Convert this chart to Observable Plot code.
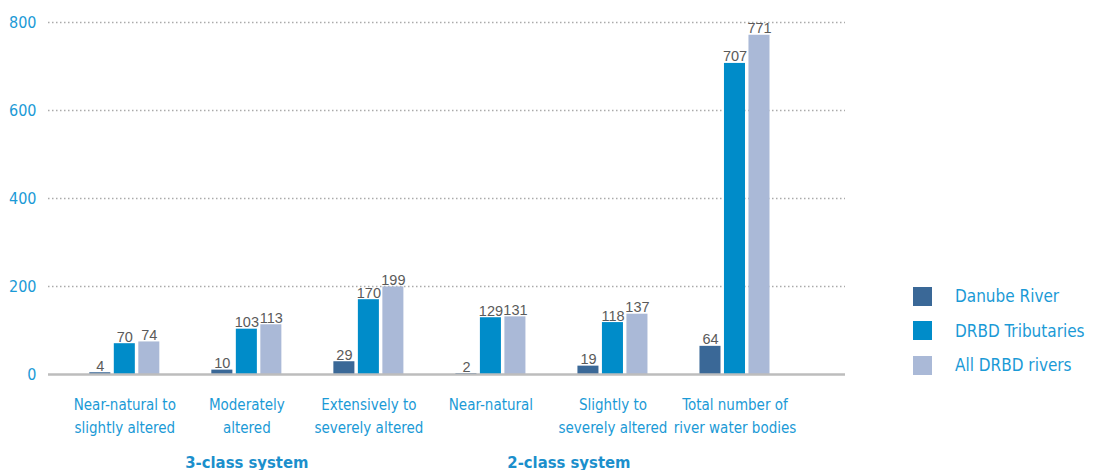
<!DOCTYPE html>
<html>
<head>
<meta charset="utf-8">
<script src="https://cdn.jsdelivr.net/npm/d3@7"></script>
<script src="https://cdn.jsdelivr.net/npm/@observablehq/plot@0.6"></script>
<style>
  html, body { margin: 0; padding: 0; background: #fff; }
  #wrap { position: relative; width: 1093px; height: 470px; overflow: hidden; }
  #legend { position: absolute; left: 913px; top: 279px; font-family: "DejaVu Sans", sans-serif; font-stretch: condensed; }
  .item { display: flex; align-items: center; height: 34.5px; }
  .sw { width: 19px; height: 19px; margin-right: 23px; flex: none; }
  .lab { font-size: 17px; color: #1b9ad6; white-space: nowrap; }
</style>
</head>
<body>
<div id="wrap"><div id="chart"></div><div id="legend"></div></div>
<script>
const categories = ["Near-natural to slightly altered", "Moderately altered", "Extensively to severely altered", "Near-natural", "Slightly to severely altered", "Total number of river water bodies"];
const tickLabels = ["Near-natural to\nslightly altered", "Moderately\naltered", "Extensively to\nseverely altered", "Near-natural", "Slightly to\nseverely altered", "Total number of\nriver water bodies"];
const series = ["Danube River", "DRBD Tributaries", "All DRBD rivers"];
const danube = [4, 10, 29, 2, 19, 64];
const tributaries = [70, 103, 170, 129, 118, 707];
const allRivers = [74, 113, 199, 131, 137, 771];
const yTicks = [0, 200, 400, 600, 800];
const groupLabels = ["3-class system", "2-class system"];

const colors = ["#3a6897", "#008cc9", "#aab9d7"];
const blue = "#1b9ad6";
const values = [danube, tributaries, allRivers];
const rows = categories.flatMap((c, i) => series.map((s, j) => ({category: c, series: s, value: values[j][i]})));
const offsets = [-24.5, 0, 24.5];

const marks = [
  Plot.ruleY(yTicks.filter(d => d > 0), {stroke: "#aaaaaa", strokeWidth: 1.3, strokeDasharray: "1.5,2.5"})
];
series.forEach((s, j) => {
  const d = rows.filter(r => r.series === s);
  marks.push(Plot.barY(d, {x: "category", y: "value", fill: "series", insetLeft: 50.5, insetRight: 50.5, dx: offsets[j]}));
  marks.push(Plot.text(d, {x: "category", y: "value", text: d => String(d.value), dx: offsets[j], dy: -2, lineAnchor: "bottom", fill: "#5a5a5a", fontSize: 14.5, fontFamily: "Liberation Sans", fontStretch: "normal"}));
});
marks.push(Plot.ruleY([0], {stroke: "#bdbdbd", strokeWidth: 2.6}));
marks.push(Plot.axisY({ticks: yTicks, tickSize: 0, tickPadding: 12, fontSize: 16, color: blue, label: null}));
marks.push(Plot.axisX({tickSize: 0, tickPadding: 19, fontSize: 15, color: blue, label: null, lineHeight: 1.55, tickFormat: d => tickLabels[categories.indexOf(d)]}));
marks.push(Plot.text([groupLabels[0]], {x: () => categories[1], text: d => d, frameAnchor: "bottom", dy: 93, lineAnchor: "bottom", fill: "#1b8fcc", fontSize: 16.5, fontWeight: "bold"}));
marks.push(Plot.text([groupLabels[1]], {x: () => categories[3], text: d => d, frameAnchor: "bottom", dx: 78, dy: 93, lineAnchor: "bottom", fill: "#1b8fcc", fontSize: 16.5, fontWeight: "bold"}));

const plot = Plot.plot({
  width: 1093,
  height: 470,
  marginLeft: 48,
  marginRight: 248,
  marginTop: 22,
  marginBottom: 96,
  style: "font-family: 'DejaVu Sans', sans-serif; font-stretch: condensed; background: #fff; overflow: visible;",
  x: {domain: categories, range: [63.3, 795.5], padding: 0, round: false, axis: null},
  y: {domain: [0, 800], axis: null},
  color: {domain: series, range: colors},
  marks
});
document.getElementById("chart").appendChild(plot);

const legend = document.getElementById("legend");
series.forEach((s, j) => {
  const item = document.createElement("div");
  item.className = "item";
  const sw = document.createElement("div");
  sw.className = "sw";
  sw.style.background = colors[j];
  const lab = document.createElement("span");
  lab.className = "lab";
  lab.textContent = s;
  item.appendChild(sw);
  item.appendChild(lab);
  legend.appendChild(item);
});
</script>
</body>
</html>
